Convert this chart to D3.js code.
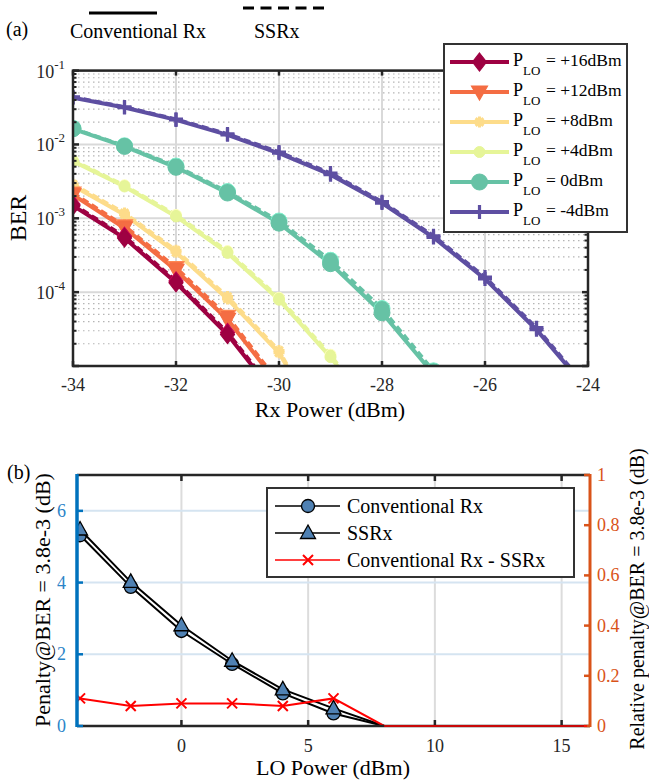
<!DOCTYPE html>
<html><head><meta charset="utf-8">
<script src="https://cdn.jsdelivr.net/npm/d3@7"></script>
<style>body{margin:0;background:#fff}svg{display:block}</style>
</head><body><svg id="c" width="649" height="783" font-family="Liberation Serif, Times New Roman, Times, serif"></svg>
<script>
// ---------- DATA: panel (a) ----------
const rxPower = [-34,-33,-32,-31,-30,-29,-28,-27,-26,-25,-24];
const loLabels = ["+16dBm","+12dBm","+8dBm","+4dBm","0dBm","-4dBm"];
const loColors = ["#9E0142","#F46D43","#FDDC8A","#E6F598","#66C2A5","#5E4FA2"];
const loMarkers = ["diamond","triangleDown","star","smallCircle","circle","plus"];
const berConvP16 = [1.48e-3,5.4e-4,1.34e-4,2.67e-5,3.5e-6];
const berSsrxP16 = [1.55e-3,5.7e-4,1.42e-4,2.85e-5,3.8e-6];
const berConvP12 = [2.08e-3,7.4e-4,1.98e-4,4.27e-5,5.5e-6];
const berSsrxP12 = [2.2e-3,7.9e-4,2.15e-4,4.7e-5,6.0e-6];
const berConvP8  = [2.76e-3,1.12e-3,3.46e-4,8.1e-5,1.51e-5,9.3e-7];
const berSsrxP8  = [2.9e-3,1.18e-3,3.7e-4,8.7e-5,1.62e-5,1.0e-6];
const berConvP4  = [5.9e-3,2.7e-3,1.06e-3,3.4e-4,7.9e-5,1.32e-5,1.65e-6];
const berSsrxP4  = [6.1e-3,2.8e-3,1.11e-3,3.6e-4,8.4e-5,1.42e-5,1.8e-6];
const berConvP0  = [1.63e-2,9.4e-3,4.9e-3,2.2e-3,8.6e-4,2.43e-4,5.25e-5,7.8e-6];
const berSsrxP0  = [1.65e-2,9.6e-3,5.1e-3,2.3e-3,9.2e-4,2.7e-4,6.0e-5,8.6e-6];
const berConvM4  = [4.3e-2,3.16e-2,2.15e-2,1.35e-2,7.6e-3,3.9e-3,1.61e-3,5.5e-4,1.51e-4,3.1e-5,4.7e-6];
const berSsrxM4  = [4.4e-2,3.22e-2,2.2e-2,1.39e-2,7.9e-3,4.1e-3,1.68e-3,5.8e-4,1.6e-4,3.3e-5,5.0e-6];
const xTicksA = [-34,-32,-30,-28,-26,-24];
const yTicksA = [1e-1,1e-2,1e-3,1e-4];

// ---------- DATA: panel (b) ----------
const loPower = [-4,-2,0,2,4,6,8,10,12,14,16];
const penaltyConv = [5.32,3.88,2.65,1.73,0.91,0.35,0,0,0,0,0];
const penaltySsrx = [5.48,4.02,2.81,1.82,1.02,0.49,0,0,0,0,0];
const relPenalty  = [0.11,0.08,0.09,0.09,0.08,0.11,0,0,0,0,0];
const xTicksB = [0,5,10,15];
const yTicksBL = [0,2,4,6];
const yTicksBR = [0,0.2,0.4,0.6,0.8,1];
const legendB = ["Conventional Rx","SSRx","Conventional Rx - SSRx"];

const svg = d3.select("#c");

// =============== PANEL (a) ===============
const A = {l:73, r:588, t:70.6, b:366};
const xa = d3.scaleLinear().domain([-34,-24]).range([A.l,A.r]);
const ya = d3.scaleLog().domain([1e-5,1e-1]).range([A.b,A.t]);

svg.append("text").attr("x",6).attr("y",36).attr("font-size",20).text("(a)");
svg.append("line").attr("x1",89).attr("x2",157).attr("y1",13).attr("y2",13).attr("stroke","#000").attr("stroke-width",3);
svg.append("text").attr("x",70).attr("y",38).attr("font-size",20).text("Conventional Rx");
svg.append("line").attr("x1",243).attr("x2",327).attr("y1",8).attr("y2",8).attr("stroke","#000").attr("stroke-width",3).attr("stroke-dasharray","11,6.5");
svg.append("text").attr("x",254).attr("y",38).attr("font-size",20).text("SSRx");

const ga = svg.append("g");
const minorY = [];
for (let e=-5;e<-1;e++) for (let m=2;m<=9;m++) minorY.push(m*Math.pow(10,e));
ga.selectAll(".mg").data(minorY).join("line")
  .attr("x1",A.l).attr("x2",A.r).attr("y1",d=>ya(d)).attr("y2",d=>ya(d))
  .attr("stroke","#b5b5b5").attr("stroke-width",1.2).attr("stroke-dasharray","1.5,3.5");
ga.selectAll(".gy").data(yTicksA).join("line")
  .attr("x1",A.l).attr("x2",A.r).attr("y1",d=>ya(d)).attr("y2",d=>ya(d))
  .attr("stroke","#d9d9d9").attr("stroke-width",2);
ga.selectAll(".gx").data(xTicksA.slice(1,-1)).join("line")
  .attr("x1",d=>xa(d)).attr("x2",d=>xa(d)).attr("y1",A.t).attr("y2",A.b)
  .attr("stroke","#d9d9d9").attr("stroke-width",2);

svg.append("clipPath").attr("id","clipA").append("rect")
  .attr("x",A.l).attr("y",A.t).attr("width",A.r-A.l).attr("height",A.b-A.t);

function marker(g, type, x, y, color, edge) {
  const s = edge || color;
  if (type==="diamond") {
    g.append("path").attr("d",`M${x},${y-9}L${x+7},${y}L${x},${y+9}L${x-7},${y}Z`).attr("fill",color).attr("stroke",s).attr("stroke-width",1.2);
  } else if (type==="triangleDown") {
    g.append("path").attr("d",`M${x-8},${y-6}L${x+8},${y-6}L${x},${y+8}Z`).attr("fill",color).attr("stroke",s).attr("stroke-width",1.2);
  } else if (type==="star") {
    const r=5.5;
    g.append("path").attr("d",`M${x-r},${y}L${x+r},${y}M${x},${y-r}L${x},${y+r}M${x-r*0.7},${y-r*0.7}L${x+r*0.7},${y+r*0.7}M${x-r*0.7},${y+r*0.7}L${x+r*0.7},${y-r*0.7}`)
      .attr("stroke",color).attr("stroke-width",3).attr("fill","none");
  } else if (type==="smallCircle") {
    g.append("circle").attr("cx",x).attr("cy",y).attr("r",5.5).attr("fill",color).attr("stroke",s).attr("stroke-width",1);
  } else if (type==="circle") {
    g.append("circle").attr("cx",x).attr("cy",y).attr("r",8).attr("fill",color).attr("stroke",s).attr("stroke-width",1);
  } else if (type==="plus") {
    g.append("path").attr("d",`M${x-7},${y}L${x+7},${y}M${x},${y-7}L${x},${y+7}`).attr("stroke",color).attr("stroke-width",3.2);
  }
}

const seriesA = [
  {conv:berConvP16, ssrx:berSsrxP16},
  {conv:berConvP12, ssrx:berSsrxP12},
  {conv:berConvP8,  ssrx:berSsrxP8},
  {conv:berConvP4,  ssrx:berSsrxP4},
  {conv:berConvP0,  ssrx:berSsrxP0},
  {conv:berConvM4,  ssrx:berSsrxM4}
];
const plotA = svg.append("g").attr("clip-path","url(#clipA)");
const lineA = d3.line().x(d=>xa(d[0])).y(d=>ya(d[1]));
for (let i=seriesA.length-1;i>=0;i--) {
  const s = seriesA[i], col = loColors[i];
  const pc = s.conv.map((v,k)=>[rxPower[k],v]);
  const ps = s.ssrx.map((v,k)=>[rxPower[k],v]);
  plotA.append("path").attr("d",lineA(pc)).attr("fill","none").attr("stroke",col).attr("stroke-width",4);
  plotA.append("path").attr("d",lineA(ps)).attr("fill","none").attr("stroke",col).attr("stroke-width",3.5).attr("stroke-dasharray","7,4");
  const gm = plotA.append("g");
  ps.forEach(p=>marker(gm, loMarkers[i], xa(p[0]), ya(p[1]), col, d3.color(col).brighter(0.6)));
  pc.forEach(p=>marker(gm, loMarkers[i], xa(p[0]), ya(p[1]), col));
}

const axA = svg.append("g").attr("stroke","#262626").attr("stroke-width",2.5).attr("fill","none");
axA.append("rect").attr("x",A.l).attr("y",A.t).attr("width",A.r-A.l).attr("height",A.b-A.t);
xTicksA.forEach(v=>{
  axA.append("line").attr("x1",xa(v)).attr("x2",xa(v)).attr("y1",A.b).attr("y2",A.b-5);
  axA.append("line").attr("x1",xa(v)).attr("x2",xa(v)).attr("y1",A.t).attr("y2",A.t+5);
});
yTicksA.concat([1e-5]).forEach(v=>{
  axA.append("line").attr("x1",A.l).attr("x2",A.l+6).attr("y1",ya(v)).attr("y2",ya(v));
  axA.append("line").attr("x1",A.r).attr("x2",A.r-6).attr("y1",ya(v)).attr("y2",ya(v));
});
minorY.forEach(v=>{
  axA.append("line").attr("x1",A.l).attr("x2",A.l+3.5).attr("y1",ya(v)).attr("y2",ya(v)).attr("stroke-width",2);
  axA.append("line").attr("x1",A.r).attr("x2",A.r-3.5).attr("y1",ya(v)).attr("y2",ya(v)).attr("stroke-width",2);
});
svg.selectAll(".xla").data(xTicksA).join("text").attr("x",d=>xa(d)).attr("y",391)
  .attr("text-anchor","middle").attr("font-size",18).attr("fill","#262626").text(d=>String(d).replace("\u2212","-"));
yTicksA.forEach(v=>{
  const t = svg.append("text").attr("x",65).attr("y",ya(v)+7).attr("text-anchor","end").attr("font-size",18).attr("fill","#262626");
  t.append("tspan").text("10");
  t.append("tspan").attr("dy",-9).attr("font-size",13).text(String(Math.round(Math.log10(v))));
});
svg.append("text").attr("x",330).attr("y",417).attr("text-anchor","middle").attr("font-size",22).text("Rx Power (dBm)");
svg.append("text").attr("transform","translate(26,218) rotate(-90)").attr("text-anchor","middle").attr("font-size",24).text("BER");

// legend (a)
const lgA = svg.append("g");
lgA.append("rect").attr("x",444).attr("y",44).attr("width",183).attr("height",188).attr("fill","#fff").attr("stroke","#333").attr("stroke-width",2);
loLabels.forEach((lab,i)=>{
  const cy = 62 + i*30;
  lgA.append("line").attr("x1",450).attr("x2",509).attr("y1",cy).attr("y2",cy).attr("stroke",loColors[i]).attr("stroke-width",4);
  marker(lgA, loMarkers[i], 479.5, cy, loColors[i]);
  const t = lgA.append("text").attr("x",513).attr("y",cy+4).attr("font-size",18);
  t.append("tspan").text("P");
  t.append("tspan").attr("dy",9).attr("font-size",13).text("LO");
  t.append("tspan").attr("x",546).attr("dy",-9).attr("font-size",17.5).text("= "+lab);
});

// =============== PANEL (b) ===============
const B = {l:77, r:590, t:475, b:726};
const xb = d3.scaleLinear().domain([-4.12,16.12]).range([B.l,B.r]);
const ybl = d3.scaleLinear().domain([0,7]).range([B.b,B.t]);
const ybr = d3.scaleLinear().domain([0,1]).range([B.b,B.t]);

svg.append("text").attr("x",7).attr("y",479).attr("font-size",20).text("(b)");
const gb = svg.append("g");
gb.selectAll(".gbx").data(xTicksB).join("line").attr("x1",d=>xb(d)).attr("x2",d=>xb(d)).attr("y1",B.t).attr("y2",B.b)
  .attr("stroke","#dcdcdc").attr("stroke-width",2);
gb.selectAll(".gby").data(yTicksBL.slice(1)).join("line").attr("x1",B.l).attr("x2",B.r).attr("y1",d=>ybl(d)).attr("y2",d=>ybl(d))
  .attr("stroke","#d5e4f1").attr("stroke-width",2);

svg.append("clipPath").attr("id","clipB").append("rect").attr("x",B.l).attr("y",B.t-10).attr("width",B.r-B.l).attr("height",B.b-B.t+10);
const plotB = svg.append("g").attr("clip-path","url(#clipB)");
const lineBL = d3.line().x(d=>xb(d[0])).y(d=>ybl(d[1]));
const lineBR = d3.line().x(d=>xb(d[0])).y(d=>ybr(d[1]));
const pConv = loPower.map((x,i)=>[x,penaltyConv[i]]);
const pSsrx = loPower.map((x,i)=>[x,penaltySsrx[i]]);
const pRel = loPower.map((x,i)=>[x,relPenalty[i]]);
const mFill = "#4f81b3";
function triUp(g,x,y){ g.append("path").attr("d",`M${x},${y-8}L${x+7.5},${y+5.5}L${x-7.5},${y+5.5}Z`).attr("fill",mFill).attr("stroke","#000").attr("stroke-width",1.3); }
function circ(g,x,y){ g.append("circle").attr("cx",x).attr("cy",y).attr("r",6.5).attr("fill",mFill).attr("stroke","#000").attr("stroke-width",1.3); }
function xm(g,x,y){ g.append("path").attr("d",`M${x-5},${y-5}L${x+5},${y+5}M${x-5},${y+5}L${x+5},${y-5}`).attr("stroke","#ff0000").attr("stroke-width",2); }

plotB.append("path").attr("d",lineBL(pConv)).attr("fill","none").attr("stroke","#000").attr("stroke-width",2);
pConv.filter(p=>p[1]>0).forEach(p=>circ(plotB,xb(p[0]),ybl(p[1])));
plotB.append("path").attr("d",lineBL(pSsrx)).attr("fill","none").attr("stroke","#000").attr("stroke-width",2);
pSsrx.filter(p=>p[1]>0).forEach(p=>triUp(plotB,xb(p[0]),ybl(p[1])));

const axB = svg.append("g").attr("fill","none");
axB.append("line").attr("x1",B.l).attr("x2",B.r).attr("y1",B.t).attr("y2",B.t).attr("stroke","#262626").attr("stroke-width",2.5);
axB.append("line").attr("x1",B.l).attr("x2",B.r).attr("y1",B.b).attr("y2",B.b).attr("stroke","#262626").attr("stroke-width",2.5);
xTicksB.forEach(v=>{
  axB.append("line").attr("x1",xb(v)).attr("x2",xb(v)).attr("y1",B.b).attr("y2",B.b-6).attr("stroke","#262626").attr("stroke-width",2.5);
  axB.append("line").attr("x1",xb(v)).attr("x2",xb(v)).attr("y1",B.t).attr("y2",B.t+6).attr("stroke","#262626").attr("stroke-width",2.5);
});
plotB.append("path").attr("d",lineBR(pRel)).attr("fill","none").attr("stroke","#ff0000").attr("stroke-width",2);
pRel.filter(p=>p[1]>0).forEach(p=>xm(plotB,xb(p[0]),ybr(p[1])));
svg.append("path").attr("d",lineBR(pRel.filter(p=>p[1]===0))).attr("fill","none").attr("stroke","#ff0000").attr("stroke-width",1.5);

axB.append("line").attr("x1",B.l).attr("x2",B.l).attr("y1",B.t-1).attr("y2",B.b+1).attr("stroke","#0072BD").attr("stroke-width",3.5);
yTicksBL.forEach(v=>axB.append("line").attr("x1",B.l).attr("x2",B.l+6).attr("y1",ybl(v)).attr("y2",ybl(v)).attr("stroke","#0072BD").attr("stroke-width",2.5));
axB.append("line").attr("x1",B.r).attr("x2",B.r).attr("y1",B.t-1).attr("y2",B.b+1).attr("stroke","#D95319").attr("stroke-width",3);
yTicksBR.forEach(v=>axB.append("line").attr("x1",B.r).attr("x2",B.r-6).attr("y1",ybr(v)).attr("y2",ybr(v)).attr("stroke","#D95319").attr("stroke-width",2.5));

svg.selectAll(".xlb").data(xTicksB).join("text").attr("x",d=>xb(d)).attr("y",752).attr("text-anchor","middle")
  .attr("font-size",18).attr("fill","#262626").text(d=>d);
svg.selectAll(".ylbl").data(yTicksBL).join("text").attr("x",66).attr("y",d=>ybl(d)+6).attr("text-anchor","end")
  .attr("font-size",18).attr("fill","#2b84c8").text(d=>d);
svg.selectAll(".ylbr").data(yTicksBR).join("text").attr("x",597).attr("y",d=>ybr(d)+6).attr("text-anchor","start")
  .attr("font-size",18).attr("fill","#D95319").text(d=>d===0||d===1?String(d):d.toFixed(1));
svg.append("text").attr("x",333).attr("y",775).attr("text-anchor","middle").attr("font-size",22).text("LO Power (dBm)");
svg.append("text").attr("transform","translate(50,600) rotate(-90)").attr("text-anchor","middle").attr("font-size",22).text("Penalty@BER = 3.8e-3 (dB)");
svg.append("text").attr("transform","translate(644,599) rotate(-90)").attr("text-anchor","middle").attr("font-size",20).text("Relative penalty@BER = 3.8e-3 (dB)");

const lgB = svg.append("g");
lgB.append("rect").attr("x",267).attr("y",488).attr("width",307).attr("height",89).attr("fill","#fff").attr("stroke","#333").attr("stroke-width",2);
legendB.forEach((lab,i)=>{
  const cy = 506 + i*27;
  lgB.append("line").attr("x1",275).attr("x2",340).attr("y1",cy).attr("y2",cy).attr("stroke",i===2?"#ff0000":"#000").attr("stroke-width",1.5);
  if (i===0) circ(lgB,308,cy); else if (i===1) triUp(lgB,308,cy); else xm(lgB,308,cy);
  lgB.append("text").attr("x",347).attr("y",cy+7).attr("font-size",20).text(lab);
});
</script></body></html>
